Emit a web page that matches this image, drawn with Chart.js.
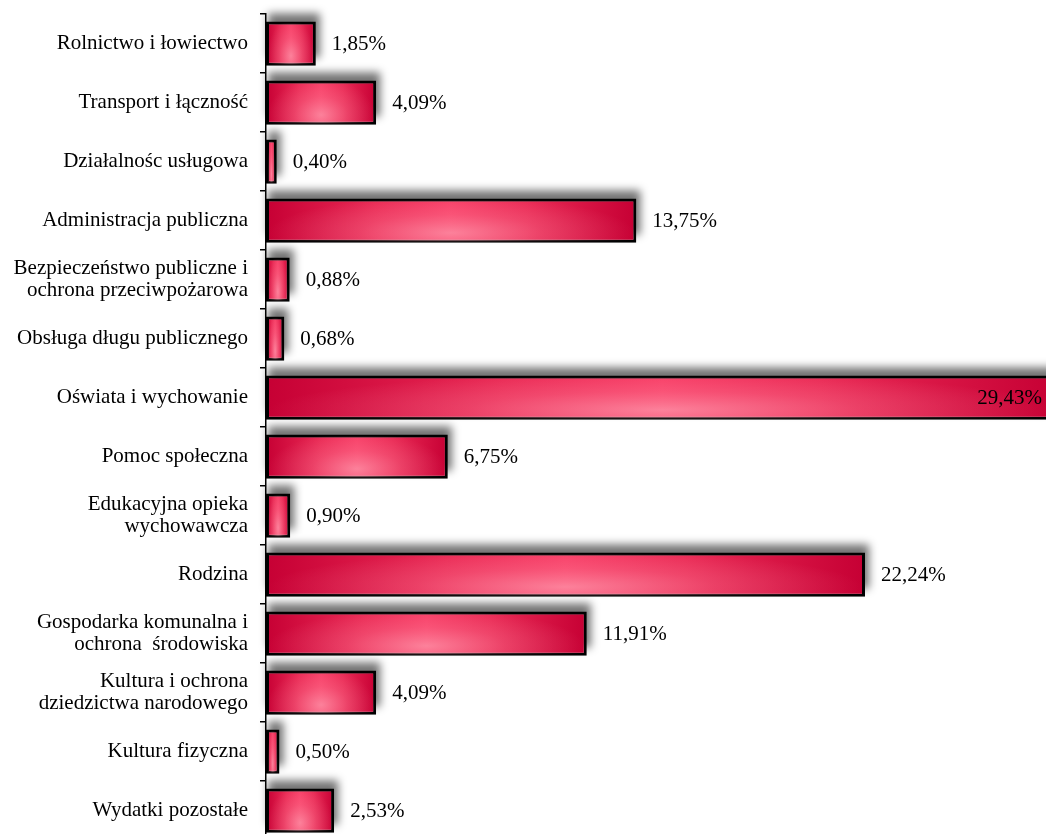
<!DOCTYPE html>
<html>
<head>
<meta charset="utf-8">
<script src="https://cdn.jsdelivr.net/npm/chart.js@4.4.0/dist/chart.umd.min.js"></script>
<style>
    body { margin: 0; background: #fff; }
    #wrap { width: 1046px; height: 834px; overflow: hidden; position: relative; }
    #chart { display: block; }
</style>
</head>
<body>
<div id="wrap"><canvas id="chart" width="1074" height="840"></canvas></div>
<script>
// Categories (multi-line labels as arrays)
const categories = [
    ['Rolnictwo i łowiectwo'],
    ['Transport i łączność'],
    ['Działalnośc usługowa'],
    ['Administracja publiczna'],
    ['Bezpieczeństwo publiczne i', 'ochrona przeciwpożarowa'],
    ['Obsługa długu publicznego'],
    ['Oświata i wychowanie'],
    ['Pomoc społeczna'],
    ['Edukacyjna opieka', 'wychowawcza'],
    ['Rodzina'],
    ['Gospodarka komunalna i', 'ochrona  środowiska'],
    ['Kultura i ochrona', 'dziedzictwa narodowego'],
    ['Kultura fizyczna'],
    ['Wydatki pozostałe']
];

// Share of expenses (%)
const shares = [1.85, 4.09, 0.40, 13.75, 0.88, 0.68, 29.43, 6.75, 0.90, 22.24, 11.91, 4.09, 0.50, 2.53];

const VISIBLE_WIDTH = 1046;
const FONT = '"Liberation Serif", "Times New Roman", serif';

function formatShare(v) {
    return v.toFixed(2).replace('.', ',') + '%';
}

/**
 * Horizontal gradient per bar: dark at both ends, brighter in the middle
 */
function barGradient(context) {
    const chart = context.chart;
    if (!chart.chartArea || context.type !== 'data') return '#e0204d';
    const xs = chart.scales.x;
    const x0 = xs.getPixelForValue(0);
    const x1 = xs.getPixelForValue(context.raw);
    const g = chart.ctx.createLinearGradient(x0, 0, x1, 0);
    g.addColorStop(0, '#c60034');
    g.addColorStop(0.3, '#ea2a55');
    g.addColorStop(0.5, '#f83d66');
    g.addColorStop(0.7, '#ea2a55');
    g.addColorStop(1, '#c60034');
    return g;
}

// Soft grey shadow above each bar
const barShadow = {
    id: 'barShadow',
    beforeDatasetsDraw(chart) {
        const ctx = chart.ctx;
        const meta = chart.getDatasetMeta(0);
        ctx.save();
        ctx.filter = 'blur(4px)';
        ctx.fillStyle = 'rgba(0,0,0,0.55)';
        meta.data.forEach(bar => {
            const left = Math.min(bar.base, bar.x);
            const w = Math.abs(bar.x - bar.base);
            ctx.fillRect(left + 2, bar.y - bar.height / 2 - 8, w + 2, bar.height);
        });
        ctx.restore();
    }
};

// Light elliptical glow near the lower middle of each bar
const barGlow = {
    id: 'barGlow',
    afterDatasetsDraw(chart) {
        const ctx = chart.ctx;
        const meta = chart.getDatasetMeta(0);
        meta.data.forEach(bar => {
            const left = Math.min(bar.base, bar.x) + 1.5;
            const w = Math.abs(bar.x - bar.base) - 3;
            const top = bar.y - bar.height / 2 + 1.5;
            const h = bar.height - 3;
            if (w <= 0) return;
            ctx.save();
            ctx.beginPath();
            ctx.rect(left, top, w, h);
            ctx.clip();
            ctx.translate(left + w / 2, top + h * 0.8);
            ctx.scale(w * 0.5, h * 0.9);
            const g = ctx.createRadialGradient(0, 0, 0, 0, 0, 1);
            g.addColorStop(0, 'rgba(255,175,190,0.6)');
            g.addColorStop(0.5, 'rgba(255,150,170,0.25)');
            g.addColorStop(1, 'rgba(255,150,170,0)');
            ctx.fillStyle = g;
            ctx.fillRect(-1, -1, 2, 2);
            ctx.restore();
        });
    }
};

// Value labels next to bars
const valueLabels = {
    id: 'valueLabels',
    afterDatasetsDraw(chart) {
        const ctx = chart.ctx;
        const meta = chart.getDatasetMeta(0);
        ctx.save();
        ctx.font = '21px ' + FONT;
        ctx.fillStyle = '#000';
        ctx.textBaseline = 'middle';
        meta.data.forEach((bar, i) => {
            const text = formatShare(shares[i]);
            const tw = ctx.measureText(text).width;
            let x = bar.x + 16;
            if (x + tw > VISIBLE_WIDTH - 4) {
                ctx.textAlign = 'right';
                x = Math.min(bar.x, VISIBLE_WIDTH) - 4;
            } else {
                ctx.textAlign = 'left';
            }
            ctx.fillText(text, x, bar.y + 1);
        });
        ctx.restore();
    }
};

new Chart(document.getElementById('chart'), {
    type: 'bar',
    data: {
        labels: categories,
        datasets: [{
            data: shares,
            backgroundColor: barGradient,
            borderColor: '#000',
            borderWidth: 3,
            borderSkipped: false,
            categoryPercentage: 1,
            barPercentage: 0.75
        }]
    },
    options: {
        indexAxis: 'y',
        responsive: false,
        animation: false,
        devicePixelRatio: 1,
        layout: { padding: { top: 14, left: 0, right: 0, bottom: 0 } },
        plugins: {
            legend: { display: false },
            tooltip: { enabled: false }
        },
        scales: {
            x: {
                display: false,
                min: 0,
                max: 30
            },
            y: {
                afterFit(scale) {
                    scale.width = 266;
                    scale.paddingTop = 0;
                    scale.paddingBottom = 0;
                },
                grid: {
                    offset: true,
                    drawOnChartArea: false,
                    drawTicks: true,
                    tickLength: 6,
                    color: '#000',
                    lineWidth: 1.5
                },
                border: { display: true, color: '#000', width: 1.5 },
                ticks: {
                    color: '#000',
                    padding: 12,
                    font: { family: FONT, size: 21, lineHeight: 1.05 }
                }
            }
        }
    },
    plugins: [barShadow, barGlow, valueLabels]
});
</script>
</body>
</html>
